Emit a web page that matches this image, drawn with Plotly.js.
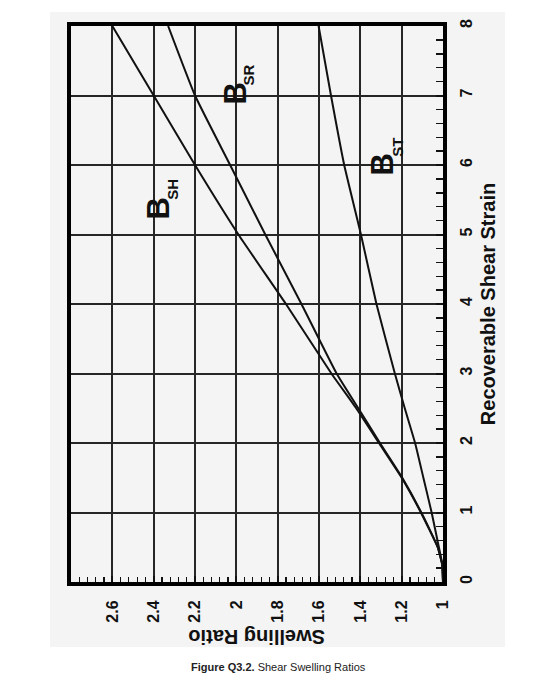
<!DOCTYPE html>
<html>
<head>
<meta charset="utf-8">
<script src="https://cdn.plot.ly/plotly-3.0.1.min.js"></script>
<style>
  html, body { margin: 0; padding: 0; background: #ffffff; }
  #chart { width: 535px; height: 700px; }
</style>
</head>
<body>
<div id="chart"></div>
<script>
// Recoverable shear strain (vertical axis in the rotated figure)
const strain = [0, 0.25, 0.5, 1, 1.5, 2, 2.5, 3, 4, 5, 6, 7, 8];
// Swelling ratios
const bSH = [1, 1.004, 1.026, 1.107, 1.2, 1.31, 1.42, 1.54, 1.76, 1.99, 2.2, 2.4, 2.6];
const bSR = [1, 1.004, 1.025, 1.105, 1.197, 1.305, 1.41, 1.515, 1.685, 1.86, 2.03, 2.2, 2.33];
const bST = [1, 1.003, 1.02, 1.055, 1.095, 1.135, 1.185, 1.233, 1.322, 1.397, 1.478, 1.542, 1.602];

// Tick labels
const ratioTicks = [1, 1.2, 1.4, 1.6, 1.8, 2, 2.2, 2.4, 2.6];
const ratioLabels = ['1', '1.2', '1.4', '1.6', '1.8', '2', '2.2', '2.4', '2.6'];
const strainTicks = [0, 1, 2, 3, 4, 5, 6, 7, 8];
const strainLabels = ['0', '1', '2', '3', '4', '5', '6', '7', '8'];

// Curve labels: main letter and subscript, with anchor positions (ratio, strain)
const curveSubs = ['SH', 'SR', 'ST'];
const mainRatio = [2.376, 2.006, 1.2975];
const mainStrain = [5.367, 7.029, 6.0];
const subRatio = [2.309, 1.939, 1.22];
const subStrain = [5.65, 7.30, 6.255];

const FONT = 'Liberation Sans, Arial, sans-serif';
const ink = '#111111';

const series = [bSH, bSR, bST];
const traces = series.map(function (vals) {
  return {
    x: vals,
    y: strain,
    type: 'scatter',
    mode: 'lines',
    line: { color: ink, width: 2, shape: 'spline', smoothing: 0.4 },
    hoverinfo: 'skip',
    showlegend: false
  };
});

const annotations = [];
curveSubs.forEach(function (s, i) {
  annotations.push({
    x: mainRatio[i], y: mainStrain[i], xref: 'x', yref: 'y',
    text: 'B', showarrow: false, textangle: -90,
    font: { family: FONT, size: 31, color: ink, weight: 'bold' },
    xanchor: 'center', yanchor: 'middle'
  });
  annotations.push({
    x: subRatio[i], y: subStrain[i], xref: 'x', yref: 'y',
    text: s, showarrow: false, textangle: -90,
    font: { family: FONT, size: 15, color: ink, weight: 'bold' },
    xanchor: 'center', yanchor: 'middle'
  });
});

annotations.push({
  x: 0.5, y: -0.1, xref: 'paper', yref: 'paper',
  text: 'Swelling Ratio', showarrow: false, textangle: 180,
  font: { family: FONT, size: 20, color: ink, weight: 'bold' },
  xanchor: 'center', yanchor: 'middle'
});
annotations.push({
  x: 0.559, y: -0.153, xref: 'paper', yref: 'paper',
  text: '<b>Figure Q3.2.</b> Shear Swelling Ratios', showarrow: false,
  font: { family: FONT, size: 11, color: '#222222' },
  xanchor: 'center', yanchor: 'middle'
});

const layout = {
  width: 535, height: 700,
  margin: { l: 71, r: 92, t: 26, b: 118 },
  paper_bgcolor: '#ffffff',
  plot_bgcolor: 'rgba(0,0,0,0)',
  showlegend: false,
  shapes: [{
    type: 'rect', xref: 'paper', yref: 'paper',
    x0: -0.0565, x1: 1.1667, y0: -0.117, y1: 1.0252,
    fillcolor: '#f4f4f4', line: { width: 0 }, layer: 'below'
  }],
  xaxis: {
    range: [2.8, 1],
    tickmode: 'array', tickvals: ratioTicks, ticktext: ratioLabels,
    tickangle: -90,
    tickfont: { family: FONT, size: 16, color: ink, weight: 'bold' },
    ticks: 'inside', ticklen: 6, tickwidth: 2, tickcolor: ink,
    ticklabelstandoff: 8,
    showgrid: true, gridcolor: '#262626', gridwidth: 2,
    zeroline: false,
    showline: true, linecolor: '#000000', linewidth: 4, mirror: true,
    minor: { tickmode: 'linear', tick0: 1, dtick: 0.04, ticks: 'inside', ticklen: 5, tickwidth: 1.2, tickcolor: ink, showgrid: false }
  },
  yaxis: {
    range: [0, 8], side: 'right',
    tickmode: 'array', tickvals: strainTicks, ticktext: strainLabels,
    tickangle: -90,
    tickfont: { family: FONT, size: 16, color: ink, weight: 'bold' },
    ticks: 'inside', ticklen: 7, tickwidth: 2, tickcolor: ink,
    ticklabelstandoff: 6,
    showgrid: true, gridcolor: '#262626', gridwidth: 2,
    zeroline: false,
    showline: true, linecolor: '#000000', linewidth: 4, mirror: true,
    minor: { tickmode: 'linear', tick0: 0, dtick: 0.2, ticks: 'inside', ticklen: 7, tickwidth: 1.4, tickcolor: ink, showgrid: false },
    title: { text: 'Recoverable Shear Strain', standoff: 8,
             font: { family: FONT, size: 20, color: ink, weight: 'bold' } }
  },
  annotations: annotations
};

Plotly.newPlot('chart', traces, layout, { displayModeBar: false, staticPlot: true });
</script>
</body>
</html>
